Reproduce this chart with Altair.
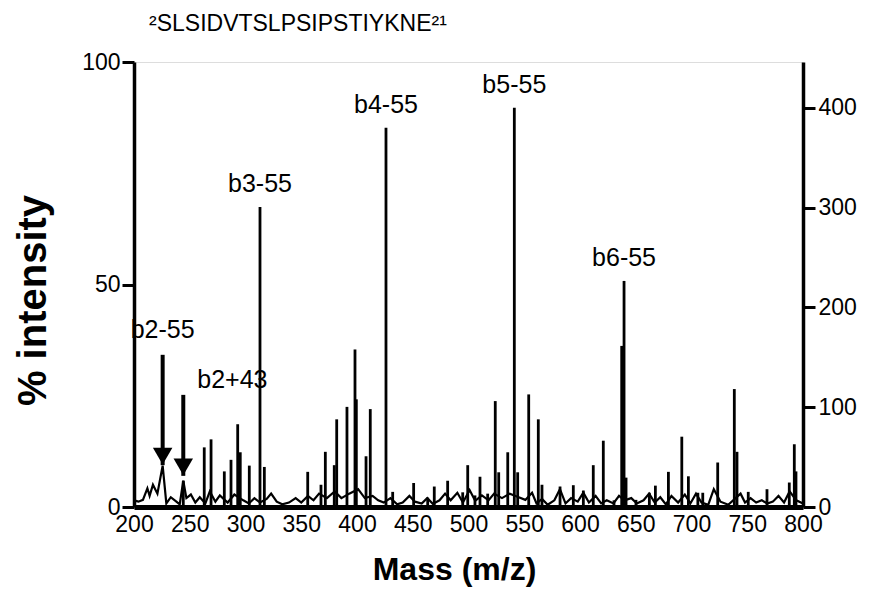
import altair as alt
import pandas as pd

# ---- data ----
peak_mz = [313.0, 426.0, 541.1, 639.5,
           244.2, 263.0, 269.1, 281.0, 287.0, 293.0, 295.3, 303.4, 316.9,
           355.8, 367.7, 371.6, 379.6, 381.8, 391.0, 398.2, 399.4, 408.1, 411.9,
           432.0, 450.8, 463.4, 469.3, 481.3, 494.8, 499.3, 505.8, 510.3, 517.2,
           524.0, 527.1, 535.2, 544.1, 554.0, 562.6, 565.9, 582.1, 594.0, 603.0,
           611.9, 620.9, 630.5, 637.4, 641.3, 650.2, 662.2, 667.6, 679.3, 691.3,
           697.2, 705.7, 710.1, 723.5, 738.4, 740.8, 750.9, 767.7, 787.7, 792.2, 793.7]
peak_pct = [67.4, 85.2, 89.7, 50.8,
            5.9, 13.4, 15.2, 8.0, 10.6, 18.6, 12.3, 9.3, 9.0,
            7.9, 5.0, 12.4, 9.4, 19.7, 22.5, 35.4, 24.2, 11.4, 22.0,
            3.4, 5.4, 2.1, 4.6, 5.9, 3.3, 9.4, 2.6, 6.8, 3.0,
            23.8, 7.8, 12.3, 7.8, 25.3, 19.7, 5.0, 4.6, 4.9, 3.7,
            9.4, 14.9, 1.5, 36.2, 6.6, 1.6, 3.2, 4.8, 7.9, 15.8,
            6.9, 3.2, 3.2, 10.0, 26.5, 12.4, 3.4, 4.0, 5.5, 14.1, 8.0]

trace_mz = [200, 204, 208, 212, 214, 217, 221, 225.7, 229, 233, 238, 241, 244.2, 247, 251,
            255, 259, 264, 268, 273, 277, 284, 290, 298, 303, 308, 313, 319, 323, 328,
            333, 339, 345, 350, 356, 361, 366, 373, 380, 386, 393, 401, 407, 414, 419,
            424, 430, 436, 441, 447, 452, 458, 463, 468, 474, 479, 484, 490, 495, 501,
            506, 512, 518, 523, 530, 537, 545, 551, 557, 561, 566, 571, 577, 582, 587,
            592, 598, 603, 608, 614, 619, 624, 630, 635, 640, 646, 651, 657, 662, 667,
            672, 677, 682, 688, 694, 699, 704, 709, 715, 720, 726, 733, 744, 748, 753,
            758, 763, 768, 773, 778, 783, 788, 794, 800]
trace_pct = [1.5, 1.2, 1.6, 4.2, 2.5, 5.0, 3.0, 9.3, 0.8, 2.2, 1.2, 0.6, 5.9, 2.0, 2.8,
             1.0, 2.2, 0.8, 3.5, 1.2, 2.6, 1.0, 2.8, 1.5, 0.8, 2.0, 1.0, 1.8, 3.0, 1.2,
             0.6, 1.0, 2.0, 1.0, 2.5, 1.5, 3.0, 2.0, 3.5, 2.0, 3.0, 4.0, 2.0, 2.5, 1.5,
             1.0, 2.0, 0.6, 1.0, 2.5, 1.2, 0.8, 2.0, 0.7, 1.5, 3.0, 1.5, 3.2, 1.0, 3.8,
             1.4, 2.6, 1.5, 3.0, 2.0, 3.0, 2.2, 1.6, 3.2, 0.8, 1.8, 0.5, 1.5, 4.0, 0.8,
             2.0, 1.2, 3.2, 1.0, 2.5, 0.8, 1.5, 0.8, 2.5, 1.5, 2.0, 0.8, 1.5, 3.0, 1.0,
             2.2, 0.6, 2.5, 1.0, 2.8, 0.8, 3.0, 1.0, 0.5, 4.0, 1.2, 0.5, 3.0, 1.0, 2.0,
             1.0, 1.5, 0.8, 1.2, 2.5, 1.0, 3.5, 1.5, 0.8]

label_text = ["b3-55", "b4-55", "b5-55", "b6-55"]
label_mz = [313.0, 426.0, 541.1, 639.5]
label_pct = [67.4, 85.2, 89.7, 50.8]

arrow_text = ["b2-55", "b2+43"]
arrow_mz = [225.7, 244.2]
arrow_top = [34.2, 25.2]
arrow_tip = [9.4, 7.0]

x_ticks = list(range(200, 801, 50))
left_ticks = [0, 50, 100]
right_ticks = [0, 100, 200, 300, 400]
right_max = 446

title_text = "²SLSIDVTSLPSIPSTIYKNE²¹"

# ---- tables ----
peaks = pd.DataFrame({"mz": peak_mz, "pct": peak_pct})
trace = pd.DataFrame({"mz": trace_mz, "pct": trace_pct})
labels = pd.DataFrame({"label": label_text, "mz": label_mz, "pct": label_pct})
arrows = pd.DataFrame({"label": arrow_text, "mz": arrow_mz, "top": arrow_top, "tip": arrow_tip})
right = pd.DataFrame({"v": right_ticks})

FONT = "Liberation Sans"

xaxis = alt.Axis(values=x_ticks, title="Mass (m/z)", ticks=False, grid=False,
                 domainColor="black", domainWidth=5, labelFontSize=23, labelColor="black",
                 labelPadding=6, titleFontSize=32, titleFontWeight="bold",
                 titleColor="black", titlePadding=18, titleX=320, labelFlush=False)
yaxis = alt.Axis(values=left_ticks, title="% intensity", grid=False,
                 domainColor="black", domainWidth=3.5, tickColor="black", tickWidth=3,
                 tickSize=12, labelFontSize=23, labelColor="black", labelPadding=2,
                 titleFontSize=40, titleFontWeight="bold", titleColor="black",
                 titlePadding=28, titleY=238)

xs = alt.Scale(domain=[200, 800], nice=False, zero=False)
ys = alt.Scale(domain=[0, 100], nice=False)

X = alt.X("mz:Q", scale=xs, axis=xaxis)
Y = alt.Y("pct:Q", scale=ys, axis=yaxis)

trace_layer = alt.Chart(trace).mark_line(color="black", strokeWidth=2.2).encode(x=X, y=Y)

stick_layer = alt.Chart(peaks).mark_rule(color="black", strokeWidth=2.8).encode(
    x=X, y=Y, y2=alt.datum(0))

label_layer = alt.Chart(labels).mark_text(
    font=FONT, fontSize=25, color="black", baseline="bottom", dy=-10).encode(
    x=X, y=Y, text="label:N")

arrow_shaft = alt.Chart(arrows).mark_rule(color="black", strokeWidth=4).encode(
    x=X, y=alt.Y("top:Q", scale=ys, axis=yaxis), y2=alt.Y2("tip:Q"))

arrow_head = alt.Chart(arrows).mark_point(
    shape="triangle-down", filled=True, color="black", size=380, opacity=1, yOffset=-9).encode(
    x=X, y=alt.Y("tip:Q", scale=ys, axis=yaxis))

arrow_lbl1 = alt.Chart(arrows).transform_filter(alt.datum.label == "b2-55").mark_text(
    font=FONT, fontSize=25, color="black", baseline="bottom", dy=-12).encode(
    x=X, y=alt.Y("top:Q", scale=ys, axis=yaxis), text="label:N")

arrow_lbl2 = alt.Chart(arrows).transform_filter(alt.datum.label == "b2+43").mark_text(
    font=FONT, fontSize=25, color="black", baseline="bottom", align="left", dx=14, dy=-2).encode(
    x=X, y=alt.Y("top:Q", scale=ys, axis=yaxis), text="label:N")

left = alt.layer(trace_layer, stick_layer, label_layer, arrow_shaft, arrow_head,
                 arrow_lbl1, arrow_lbl2)

right_layer = alt.Chart(right).mark_point(opacity=0).encode(
    y=alt.Y("v:Q", scale=alt.Scale(domain=[0, right_max], nice=False),
            axis=alt.Axis(orient="right", values=right_ticks, title=None, grid=False,
                          domainColor="black", domainWidth=3.5, tickColor="black",
                          tickWidth=3, tickSize=12, labelFontSize=23,
                          labelColor="black", labelPadding=3)))

chart = alt.layer(left, right_layer).resolve_scale(y="independent").properties(
    width=669, height=445,
    title=alt.TitleParams(text=title_text, anchor="start", fontSize=23,
                          fontWeight="normal", font=FONT, color="black",
                          offset=15, dx=15, frame="group"),
).configure_view(stroke=None).configure_axis(labelFont=FONT, titleFont=FONT
).configure(background="white")

chart.save("out.html", embed_options={"renderer": "svg", "actions": False})
